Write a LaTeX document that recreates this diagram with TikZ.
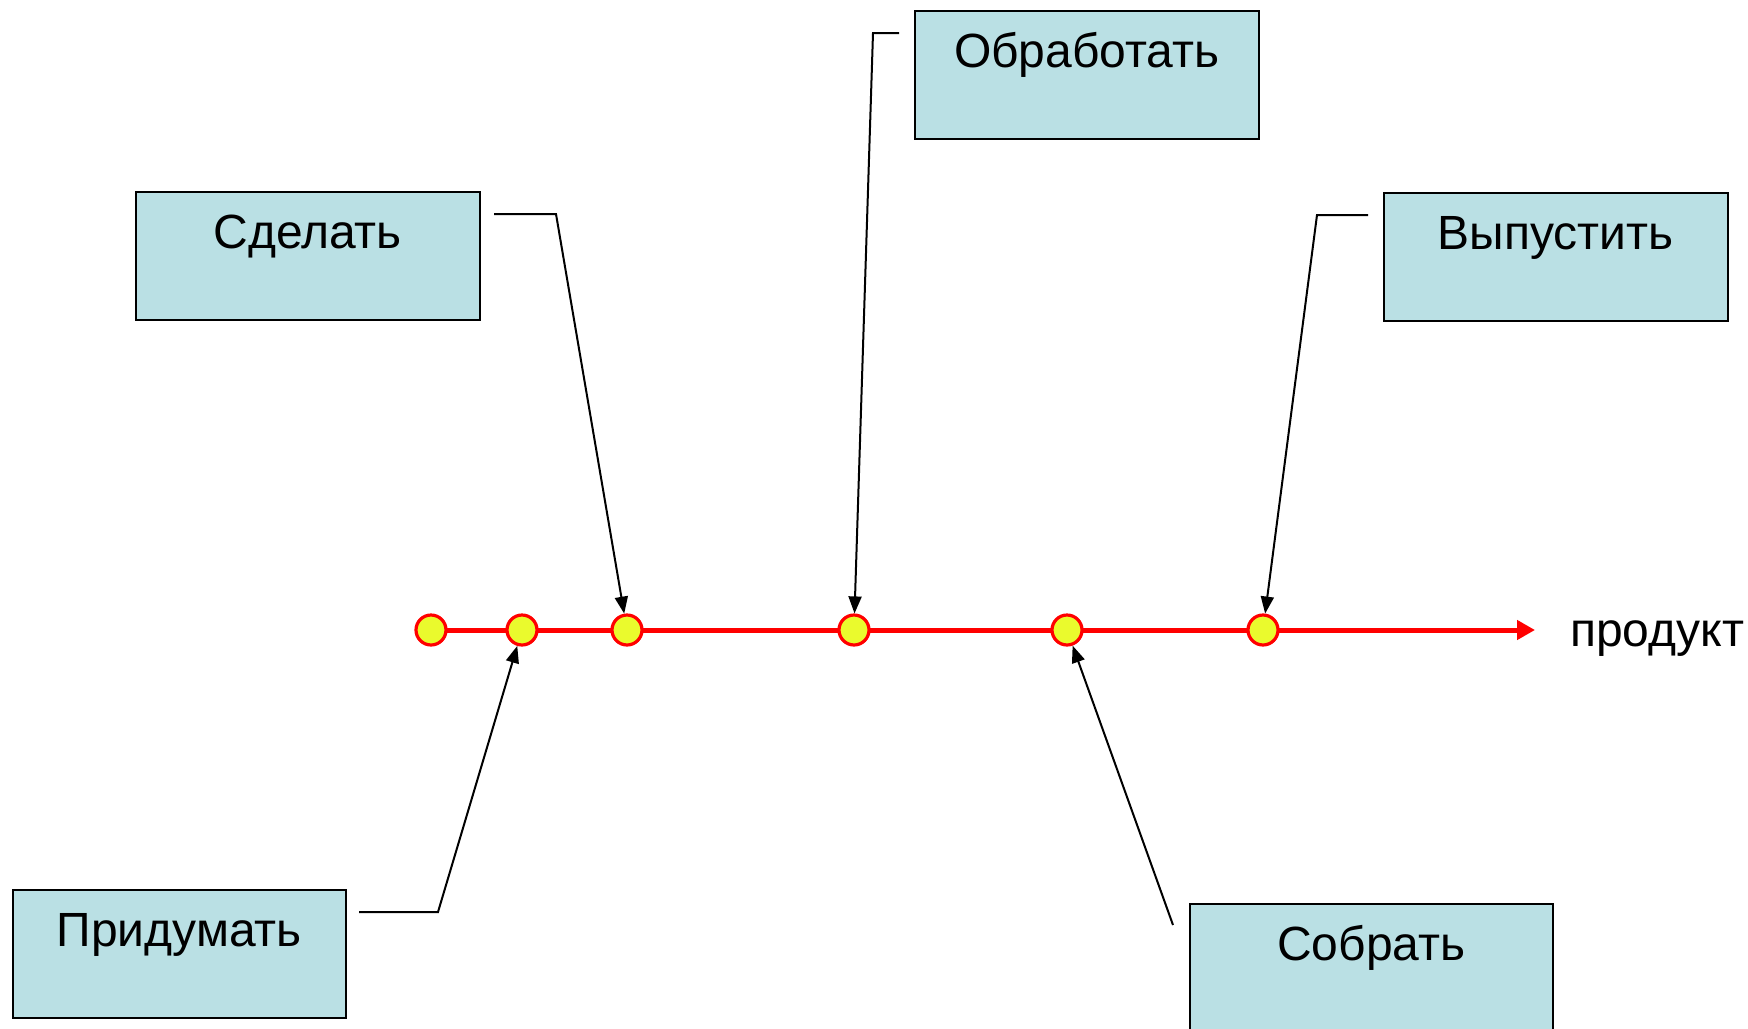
\documentclass[tikz,border=0pt]{standalone}
\usepackage{fontspec}
\setmainfont{Liberation Sans}
\usetikzlibrary{arrows.meta}
\definecolor{boxfill}{RGB}{186,224,228}
\definecolor{dotfill}{RGB}{234,250,45}
\tikzset{
  box/.style={draw=black, line width=1.6pt, fill=boxfill, minimum width=#1, minimum height=128pt, inner sep=0pt, anchor=north west},
  lbl/.style={font=\fontsize{48}{56}\selectfont, anchor=base, inner sep=0pt},
  dot/.style={circle, draw=red, line width=3.2pt, fill=dotfill, minimum size=30pt, inner sep=0pt},
  callout/.style={draw=black, line width=2pt, -{Triangle[length=17pt,width=13pt]}},
  flow/.style={draw=red, line width=5pt, -{Triangle[length=18pt,width=19pt]}}
}
\begin{document}
\begin{tikzpicture}[x=1pt,y=-1pt]
\useasboundingbox (0,0) rectangle (1748,1028);
\clip (0,0) rectangle (1748,1028);
% boxes
\node[box=344pt] (bobr) at (914,10) {};
\node[box=344pt] (bsd) at (135,191) {};
\node[box=344pt] (bvy) at (1383,192) {};
\node[box=333pt] (bpr) at (12,889) {};
\node[box=363pt, minimum height=160pt] (bso) at (1189,903) {};
\node[lbl] (tobr) at ([yshift=-57.5pt]bobr.north) {Обработать};
\node[lbl] (tsd) at ([yshift=-57.5pt]bsd.north) {Сделать};
\node[lbl] (tvy) at ([yshift=-57.5pt]bvy.north) {Выпустить};
\node[lbl] (tpr) at ([yshift=-57.5pt]bpr.north) {Придумать};
\node[lbl] (tso) at ([yshift=-57.5pt]bso.north) {Собрать};
% main flow
\coordinate (start) at (431,630);
\coordinate (end) at (1535,630);
\draw[flow] (start) -- (end);
\node[lbl, anchor=base west] (prod) at (1570,646) {продукт};
% dots
\node[dot] (d1) at (431,630) {};
\node[dot] (d2) at (522,630) {};
\node[dot] (d3) at (627,630) {};
\node[dot] (d4) at (854,630) {};
\node[dot] (d5) at (1067,630) {};
\node[dot] (d6) at (1263,630) {};
% callouts
\coordinate (csd1) at (494,214);
\coordinate (csd2) at (556,214);
\draw[callout] (csd1) -- (csd2) -- (d3);
\coordinate (cob1) at (899,33);
\coordinate (cob2) at (873,33);
\draw[callout] (cob1) -- (cob2) -- (d4);
\coordinate (cvy1) at (1368,215);
\coordinate (cvy2) at (1317,215);
\draw[callout] (cvy1) -- (cvy2) -- (d6);
\coordinate (cpr1) at (359,912);
\coordinate (cpr2) at (438,912);
\draw[callout] (cpr1) -- (cpr2) -- (d2);
\coordinate (cso1) at (1173,925);
\draw[callout] (cso1) -- (d5);
\end{tikzpicture}
\end{document}
